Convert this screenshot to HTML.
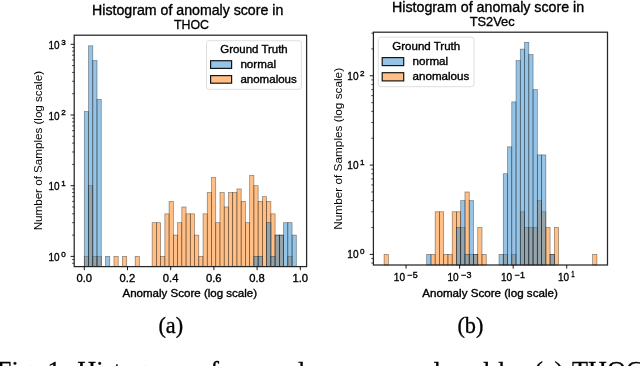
<!DOCTYPE html><html><head><meta charset="utf-8"><style>html,body{margin:0;padding:0;background:#fff;overflow:hidden}svg{display:block;will-change:transform}</style></head><body><svg width="640" height="366" viewBox="0 0 640 366">
<rect width="640" height="366" fill="#fff"/>
<rect x="84.30" y="256.40" width="4.24" height="10.20" fill="#ff7f0e" fill-opacity="0.5" stroke="#000" stroke-opacity="0.45" stroke-width="0.7"/>
<rect x="88.54" y="185.70" width="4.24" height="80.90" fill="#ff7f0e" fill-opacity="0.5" stroke="#000" stroke-opacity="0.45" stroke-width="0.7"/>
<rect x="92.78" y="256.40" width="4.24" height="10.20" fill="#ff7f0e" fill-opacity="0.5" stroke="#000" stroke-opacity="0.45" stroke-width="0.7"/>
<rect x="97.02" y="256.40" width="4.24" height="10.20" fill="#ff7f0e" fill-opacity="0.5" stroke="#000" stroke-opacity="0.45" stroke-width="0.7"/>
<rect x="113.98" y="256.40" width="4.24" height="10.20" fill="#ff7f0e" fill-opacity="0.5" stroke="#000" stroke-opacity="0.45" stroke-width="0.7"/>
<rect x="122.46" y="256.40" width="4.24" height="10.20" fill="#ff7f0e" fill-opacity="0.5" stroke="#000" stroke-opacity="0.45" stroke-width="0.7"/>
<rect x="135.18" y="256.40" width="4.24" height="10.20" fill="#ff7f0e" fill-opacity="0.5" stroke="#000" stroke-opacity="0.45" stroke-width="0.7"/>
<rect x="152.14" y="222.67" width="4.24" height="43.93" fill="#ff7f0e" fill-opacity="0.5" stroke="#000" stroke-opacity="0.45" stroke-width="0.7"/>
<rect x="156.38" y="222.67" width="4.24" height="43.93" fill="#ff7f0e" fill-opacity="0.5" stroke="#000" stroke-opacity="0.45" stroke-width="0.7"/>
<rect x="160.62" y="256.40" width="4.24" height="10.20" fill="#ff7f0e" fill-opacity="0.5" stroke="#000" stroke-opacity="0.45" stroke-width="0.7"/>
<rect x="164.86" y="213.83" width="4.24" height="52.77" fill="#ff7f0e" fill-opacity="0.5" stroke="#000" stroke-opacity="0.45" stroke-width="0.7"/>
<rect x="169.10" y="201.38" width="4.24" height="65.22" fill="#ff7f0e" fill-opacity="0.5" stroke="#000" stroke-opacity="0.45" stroke-width="0.7"/>
<rect x="173.34" y="235.12" width="4.24" height="31.48" fill="#ff7f0e" fill-opacity="0.5" stroke="#000" stroke-opacity="0.45" stroke-width="0.7"/>
<rect x="177.58" y="222.67" width="4.24" height="43.93" fill="#ff7f0e" fill-opacity="0.5" stroke="#000" stroke-opacity="0.45" stroke-width="0.7"/>
<rect x="181.82" y="206.98" width="4.24" height="59.62" fill="#ff7f0e" fill-opacity="0.5" stroke="#000" stroke-opacity="0.45" stroke-width="0.7"/>
<rect x="186.06" y="213.83" width="4.24" height="52.77" fill="#ff7f0e" fill-opacity="0.5" stroke="#000" stroke-opacity="0.45" stroke-width="0.7"/>
<rect x="190.30" y="213.83" width="4.24" height="52.77" fill="#ff7f0e" fill-opacity="0.5" stroke="#000" stroke-opacity="0.45" stroke-width="0.7"/>
<rect x="194.54" y="235.12" width="4.24" height="31.48" fill="#ff7f0e" fill-opacity="0.5" stroke="#000" stroke-opacity="0.45" stroke-width="0.7"/>
<rect x="198.78" y="256.40" width="4.24" height="10.20" fill="#ff7f0e" fill-opacity="0.5" stroke="#000" stroke-opacity="0.45" stroke-width="0.7"/>
<rect x="203.02" y="213.83" width="4.24" height="52.77" fill="#ff7f0e" fill-opacity="0.5" stroke="#000" stroke-opacity="0.45" stroke-width="0.7"/>
<rect x="207.26" y="192.55" width="4.24" height="74.05" fill="#ff7f0e" fill-opacity="0.5" stroke="#000" stroke-opacity="0.45" stroke-width="0.7"/>
<rect x="211.50" y="177.64" width="4.24" height="88.96" fill="#ff7f0e" fill-opacity="0.5" stroke="#000" stroke-opacity="0.45" stroke-width="0.7"/>
<rect x="215.74" y="222.67" width="4.24" height="43.93" fill="#ff7f0e" fill-opacity="0.5" stroke="#000" stroke-opacity="0.45" stroke-width="0.7"/>
<rect x="219.98" y="192.55" width="4.24" height="74.05" fill="#ff7f0e" fill-opacity="0.5" stroke="#000" stroke-opacity="0.45" stroke-width="0.7"/>
<rect x="224.22" y="206.98" width="4.24" height="59.62" fill="#ff7f0e" fill-opacity="0.5" stroke="#000" stroke-opacity="0.45" stroke-width="0.7"/>
<rect x="228.46" y="192.55" width="4.24" height="74.05" fill="#ff7f0e" fill-opacity="0.5" stroke="#000" stroke-opacity="0.45" stroke-width="0.7"/>
<rect x="232.70" y="192.55" width="4.24" height="74.05" fill="#ff7f0e" fill-opacity="0.5" stroke="#000" stroke-opacity="0.45" stroke-width="0.7"/>
<rect x="236.94" y="188.94" width="4.24" height="77.66" fill="#ff7f0e" fill-opacity="0.5" stroke="#000" stroke-opacity="0.45" stroke-width="0.7"/>
<rect x="241.18" y="201.38" width="4.24" height="65.22" fill="#ff7f0e" fill-opacity="0.5" stroke="#000" stroke-opacity="0.45" stroke-width="0.7"/>
<rect x="245.42" y="222.67" width="4.24" height="43.93" fill="#ff7f0e" fill-opacity="0.5" stroke="#000" stroke-opacity="0.45" stroke-width="0.7"/>
<rect x="249.66" y="175.37" width="4.24" height="91.23" fill="#ff7f0e" fill-opacity="0.5" stroke="#000" stroke-opacity="0.45" stroke-width="0.7"/>
<rect x="253.90" y="185.70" width="4.24" height="80.90" fill="#ff7f0e" fill-opacity="0.5" stroke="#000" stroke-opacity="0.45" stroke-width="0.7"/>
<rect x="258.14" y="201.38" width="4.24" height="65.22" fill="#ff7f0e" fill-opacity="0.5" stroke="#000" stroke-opacity="0.45" stroke-width="0.7"/>
<rect x="262.38" y="196.65" width="4.24" height="69.95" fill="#ff7f0e" fill-opacity="0.5" stroke="#000" stroke-opacity="0.45" stroke-width="0.7"/>
<rect x="266.62" y="201.38" width="4.24" height="65.22" fill="#ff7f0e" fill-opacity="0.5" stroke="#000" stroke-opacity="0.45" stroke-width="0.7"/>
<rect x="270.86" y="213.83" width="4.24" height="52.77" fill="#ff7f0e" fill-opacity="0.5" stroke="#000" stroke-opacity="0.45" stroke-width="0.7"/>
<rect x="275.10" y="235.12" width="4.24" height="31.48" fill="#ff7f0e" fill-opacity="0.5" stroke="#000" stroke-opacity="0.45" stroke-width="0.7"/>
<rect x="279.34" y="235.12" width="4.24" height="31.48" fill="#ff7f0e" fill-opacity="0.5" stroke="#000" stroke-opacity="0.45" stroke-width="0.7"/>
<rect x="287.82" y="256.40" width="4.24" height="10.20" fill="#ff7f0e" fill-opacity="0.5" stroke="#000" stroke-opacity="0.45" stroke-width="0.7"/>
<rect x="84.30" y="111.52" width="4.24" height="155.08" fill="#2d89cd" fill-opacity="0.5" stroke="#000" stroke-opacity="0.45" stroke-width="0.7"/>
<rect x="88.54" y="45.81" width="4.24" height="220.79" fill="#2d89cd" fill-opacity="0.5" stroke="#000" stroke-opacity="0.45" stroke-width="0.7"/>
<rect x="92.78" y="60.50" width="4.24" height="206.10" fill="#2d89cd" fill-opacity="0.5" stroke="#000" stroke-opacity="0.45" stroke-width="0.7"/>
<rect x="97.02" y="99.44" width="4.24" height="167.16" fill="#2d89cd" fill-opacity="0.5" stroke="#000" stroke-opacity="0.45" stroke-width="0.7"/>
<rect x="105.50" y="256.40" width="4.24" height="10.20" fill="#2d89cd" fill-opacity="0.5" stroke="#000" stroke-opacity="0.45" stroke-width="0.7"/>
<rect x="253.90" y="256.40" width="4.24" height="10.20" fill="#2d89cd" fill-opacity="0.5" stroke="#000" stroke-opacity="0.45" stroke-width="0.7"/>
<rect x="258.14" y="256.40" width="4.24" height="10.20" fill="#2d89cd" fill-opacity="0.5" stroke="#000" stroke-opacity="0.45" stroke-width="0.7"/>
<rect x="266.62" y="222.67" width="4.24" height="43.93" fill="#2d89cd" fill-opacity="0.5" stroke="#000" stroke-opacity="0.45" stroke-width="0.7"/>
<rect x="270.86" y="256.40" width="4.24" height="10.20" fill="#2d89cd" fill-opacity="0.5" stroke="#000" stroke-opacity="0.45" stroke-width="0.7"/>
<rect x="275.10" y="235.12" width="4.24" height="31.48" fill="#2d89cd" fill-opacity="0.5" stroke="#000" stroke-opacity="0.45" stroke-width="0.7"/>
<rect x="279.34" y="235.12" width="4.24" height="31.48" fill="#2d89cd" fill-opacity="0.5" stroke="#000" stroke-opacity="0.45" stroke-width="0.7"/>
<rect x="283.58" y="222.67" width="4.24" height="43.93" fill="#2d89cd" fill-opacity="0.5" stroke="#000" stroke-opacity="0.45" stroke-width="0.7"/>
<rect x="287.82" y="222.67" width="4.24" height="43.93" fill="#2d89cd" fill-opacity="0.5" stroke="#000" stroke-opacity="0.45" stroke-width="0.7"/>
<rect x="292.06" y="235.12" width="4.24" height="31.48" fill="#2d89cd" fill-opacity="0.5" stroke="#000" stroke-opacity="0.45" stroke-width="0.7"/>
<rect x="74.2" y="35.2" width="232.40" height="231.40" fill="none" stroke="#262626" stroke-width="1.25"/>
<line x1="70.60" y1="256.40" x2="74.2" y2="256.40" stroke="#000" stroke-width="0.9"/>
<line x1="70.60" y1="185.70" x2="74.2" y2="185.70" stroke="#000" stroke-width="0.9"/>
<line x1="70.60" y1="115.00" x2="74.2" y2="115.00" stroke="#000" stroke-width="0.9"/>
<line x1="70.60" y1="44.30" x2="74.2" y2="44.30" stroke="#000" stroke-width="0.9"/>
<line x1="72.10" y1="263.25" x2="74.2" y2="263.25" stroke="#000" stroke-width="0.7"/>
<line x1="72.10" y1="259.64" x2="74.2" y2="259.64" stroke="#000" stroke-width="0.7"/>
<line x1="72.10" y1="235.12" x2="74.2" y2="235.12" stroke="#000" stroke-width="0.7"/>
<line x1="72.10" y1="222.67" x2="74.2" y2="222.67" stroke="#000" stroke-width="0.7"/>
<line x1="72.10" y1="213.83" x2="74.2" y2="213.83" stroke="#000" stroke-width="0.7"/>
<line x1="72.10" y1="206.98" x2="74.2" y2="206.98" stroke="#000" stroke-width="0.7"/>
<line x1="72.10" y1="201.38" x2="74.2" y2="201.38" stroke="#000" stroke-width="0.7"/>
<line x1="72.10" y1="196.65" x2="74.2" y2="196.65" stroke="#000" stroke-width="0.7"/>
<line x1="72.10" y1="192.55" x2="74.2" y2="192.55" stroke="#000" stroke-width="0.7"/>
<line x1="72.10" y1="188.94" x2="74.2" y2="188.94" stroke="#000" stroke-width="0.7"/>
<line x1="72.10" y1="164.42" x2="74.2" y2="164.42" stroke="#000" stroke-width="0.7"/>
<line x1="72.10" y1="151.97" x2="74.2" y2="151.97" stroke="#000" stroke-width="0.7"/>
<line x1="72.10" y1="143.13" x2="74.2" y2="143.13" stroke="#000" stroke-width="0.7"/>
<line x1="72.10" y1="136.28" x2="74.2" y2="136.28" stroke="#000" stroke-width="0.7"/>
<line x1="72.10" y1="130.68" x2="74.2" y2="130.68" stroke="#000" stroke-width="0.7"/>
<line x1="72.10" y1="125.95" x2="74.2" y2="125.95" stroke="#000" stroke-width="0.7"/>
<line x1="72.10" y1="121.85" x2="74.2" y2="121.85" stroke="#000" stroke-width="0.7"/>
<line x1="72.10" y1="118.24" x2="74.2" y2="118.24" stroke="#000" stroke-width="0.7"/>
<line x1="72.10" y1="93.72" x2="74.2" y2="93.72" stroke="#000" stroke-width="0.7"/>
<line x1="72.10" y1="81.27" x2="74.2" y2="81.27" stroke="#000" stroke-width="0.7"/>
<line x1="72.10" y1="72.43" x2="74.2" y2="72.43" stroke="#000" stroke-width="0.7"/>
<line x1="72.10" y1="65.58" x2="74.2" y2="65.58" stroke="#000" stroke-width="0.7"/>
<line x1="72.10" y1="59.98" x2="74.2" y2="59.98" stroke="#000" stroke-width="0.7"/>
<line x1="72.10" y1="55.25" x2="74.2" y2="55.25" stroke="#000" stroke-width="0.7"/>
<line x1="72.10" y1="51.15" x2="74.2" y2="51.15" stroke="#000" stroke-width="0.7"/>
<line x1="72.10" y1="47.54" x2="74.2" y2="47.54" stroke="#000" stroke-width="0.7"/>
<line x1="84.30" y1="266.6" x2="84.30" y2="270.20" stroke="#000" stroke-width="0.9"/>
<line x1="127.50" y1="266.6" x2="127.50" y2="270.20" stroke="#000" stroke-width="0.9"/>
<line x1="170.70" y1="266.6" x2="170.70" y2="270.20" stroke="#000" stroke-width="0.9"/>
<line x1="213.90" y1="266.6" x2="213.90" y2="270.20" stroke="#000" stroke-width="0.9"/>
<line x1="257.10" y1="266.6" x2="257.10" y2="270.20" stroke="#000" stroke-width="0.9"/>
<line x1="300.30" y1="266.6" x2="300.30" y2="270.20" stroke="#000" stroke-width="0.9"/>
<rect x="384.10" y="254.40" width="4.26" height="10.60" fill="#ff7f0e" fill-opacity="0.5" stroke="#000" stroke-opacity="0.45" stroke-width="0.7"/>
<rect x="430.92" y="254.40" width="4.26" height="10.60" fill="#ff7f0e" fill-opacity="0.5" stroke="#000" stroke-opacity="0.45" stroke-width="0.7"/>
<rect x="435.17" y="211.79" width="4.26" height="53.21" fill="#ff7f0e" fill-opacity="0.5" stroke="#000" stroke-opacity="0.45" stroke-width="0.7"/>
<rect x="439.43" y="211.79" width="4.26" height="53.21" fill="#ff7f0e" fill-opacity="0.5" stroke="#000" stroke-opacity="0.45" stroke-width="0.7"/>
<rect x="443.68" y="254.40" width="4.26" height="10.60" fill="#ff7f0e" fill-opacity="0.5" stroke="#000" stroke-opacity="0.45" stroke-width="0.7"/>
<rect x="447.94" y="254.40" width="4.26" height="10.60" fill="#ff7f0e" fill-opacity="0.5" stroke="#000" stroke-opacity="0.45" stroke-width="0.7"/>
<rect x="452.20" y="211.79" width="4.26" height="53.21" fill="#ff7f0e" fill-opacity="0.5" stroke="#000" stroke-opacity="0.45" stroke-width="0.7"/>
<rect x="456.45" y="211.79" width="4.26" height="53.21" fill="#ff7f0e" fill-opacity="0.5" stroke="#000" stroke-opacity="0.45" stroke-width="0.7"/>
<rect x="460.71" y="227.52" width="4.26" height="37.48" fill="#ff7f0e" fill-opacity="0.5" stroke="#000" stroke-opacity="0.45" stroke-width="0.7"/>
<rect x="464.96" y="191.98" width="4.26" height="73.02" fill="#ff7f0e" fill-opacity="0.5" stroke="#000" stroke-opacity="0.45" stroke-width="0.7"/>
<rect x="469.22" y="254.40" width="4.26" height="10.60" fill="#ff7f0e" fill-opacity="0.5" stroke="#000" stroke-opacity="0.45" stroke-width="0.7"/>
<rect x="473.48" y="254.40" width="4.26" height="10.60" fill="#ff7f0e" fill-opacity="0.5" stroke="#000" stroke-opacity="0.45" stroke-width="0.7"/>
<rect x="477.73" y="227.52" width="4.26" height="37.48" fill="#ff7f0e" fill-opacity="0.5" stroke="#000" stroke-opacity="0.45" stroke-width="0.7"/>
<rect x="481.99" y="254.40" width="4.26" height="10.60" fill="#ff7f0e" fill-opacity="0.5" stroke="#000" stroke-opacity="0.45" stroke-width="0.7"/>
<rect x="503.27" y="254.40" width="4.26" height="10.60" fill="#ff7f0e" fill-opacity="0.5" stroke="#000" stroke-opacity="0.45" stroke-width="0.7"/>
<rect x="511.78" y="254.40" width="4.26" height="10.60" fill="#ff7f0e" fill-opacity="0.5" stroke="#000" stroke-opacity="0.45" stroke-width="0.7"/>
<rect x="520.29" y="211.79" width="4.26" height="53.21" fill="#ff7f0e" fill-opacity="0.5" stroke="#000" stroke-opacity="0.45" stroke-width="0.7"/>
<rect x="524.55" y="227.52" width="4.26" height="37.48" fill="#ff7f0e" fill-opacity="0.5" stroke="#000" stroke-opacity="0.45" stroke-width="0.7"/>
<rect x="528.80" y="227.52" width="4.26" height="37.48" fill="#ff7f0e" fill-opacity="0.5" stroke="#000" stroke-opacity="0.45" stroke-width="0.7"/>
<rect x="533.06" y="227.52" width="4.26" height="37.48" fill="#ff7f0e" fill-opacity="0.5" stroke="#000" stroke-opacity="0.45" stroke-width="0.7"/>
<rect x="537.32" y="200.64" width="4.26" height="64.36" fill="#ff7f0e" fill-opacity="0.5" stroke="#000" stroke-opacity="0.45" stroke-width="0.7"/>
<rect x="541.57" y="211.79" width="4.26" height="53.21" fill="#ff7f0e" fill-opacity="0.5" stroke="#000" stroke-opacity="0.45" stroke-width="0.7"/>
<rect x="545.83" y="227.52" width="4.26" height="37.48" fill="#ff7f0e" fill-opacity="0.5" stroke="#000" stroke-opacity="0.45" stroke-width="0.7"/>
<rect x="550.08" y="254.40" width="4.26" height="10.60" fill="#ff7f0e" fill-opacity="0.5" stroke="#000" stroke-opacity="0.45" stroke-width="0.7"/>
<rect x="554.34" y="227.52" width="4.26" height="37.48" fill="#ff7f0e" fill-opacity="0.5" stroke="#000" stroke-opacity="0.45" stroke-width="0.7"/>
<rect x="592.64" y="254.40" width="4.26" height="10.60" fill="#ff7f0e" fill-opacity="0.5" stroke="#000" stroke-opacity="0.45" stroke-width="0.7"/>
<rect x="426.66" y="254.40" width="4.26" height="10.60" fill="#2d89cd" fill-opacity="0.5" stroke="#000" stroke-opacity="0.45" stroke-width="0.7"/>
<rect x="456.45" y="227.52" width="4.26" height="37.48" fill="#2d89cd" fill-opacity="0.5" stroke="#000" stroke-opacity="0.45" stroke-width="0.7"/>
<rect x="460.71" y="200.64" width="4.26" height="64.36" fill="#2d89cd" fill-opacity="0.5" stroke="#000" stroke-opacity="0.45" stroke-width="0.7"/>
<rect x="464.96" y="254.40" width="4.26" height="10.60" fill="#2d89cd" fill-opacity="0.5" stroke="#000" stroke-opacity="0.45" stroke-width="0.7"/>
<rect x="469.22" y="200.64" width="4.26" height="64.36" fill="#2d89cd" fill-opacity="0.5" stroke="#000" stroke-opacity="0.45" stroke-width="0.7"/>
<rect x="473.48" y="254.40" width="4.26" height="10.60" fill="#2d89cd" fill-opacity="0.5" stroke="#000" stroke-opacity="0.45" stroke-width="0.7"/>
<rect x="499.01" y="254.40" width="4.26" height="10.60" fill="#2d89cd" fill-opacity="0.5" stroke="#000" stroke-opacity="0.45" stroke-width="0.7"/>
<rect x="503.27" y="173.75" width="4.26" height="91.25" fill="#2d89cd" fill-opacity="0.5" stroke="#000" stroke-opacity="0.45" stroke-width="0.7"/>
<rect x="507.52" y="146.87" width="4.26" height="118.13" fill="#2d89cd" fill-opacity="0.5" stroke="#000" stroke-opacity="0.45" stroke-width="0.7"/>
<rect x="511.78" y="101.91" width="4.26" height="163.09" fill="#2d89cd" fill-opacity="0.5" stroke="#000" stroke-opacity="0.45" stroke-width="0.7"/>
<rect x="516.04" y="60.60" width="4.26" height="204.40" fill="#2d89cd" fill-opacity="0.5" stroke="#000" stroke-opacity="0.45" stroke-width="0.7"/>
<rect x="520.29" y="49.11" width="4.26" height="215.89" fill="#2d89cd" fill-opacity="0.5" stroke="#000" stroke-opacity="0.45" stroke-width="0.7"/>
<rect x="524.55" y="42.33" width="4.26" height="222.67" fill="#2d89cd" fill-opacity="0.5" stroke="#000" stroke-opacity="0.45" stroke-width="0.7"/>
<rect x="528.80" y="54.54" width="4.26" height="210.46" fill="#2d89cd" fill-opacity="0.5" stroke="#000" stroke-opacity="0.45" stroke-width="0.7"/>
<rect x="533.06" y="89.63" width="4.26" height="175.37" fill="#2d89cd" fill-opacity="0.5" stroke="#000" stroke-opacity="0.45" stroke-width="0.7"/>
<rect x="537.32" y="154.92" width="4.26" height="110.08" fill="#2d89cd" fill-opacity="0.5" stroke="#000" stroke-opacity="0.45" stroke-width="0.7"/>
<rect x="541.57" y="154.92" width="4.26" height="110.08" fill="#2d89cd" fill-opacity="0.5" stroke="#000" stroke-opacity="0.45" stroke-width="0.7"/>
<rect x="550.08" y="254.40" width="4.26" height="10.60" fill="#2d89cd" fill-opacity="0.5" stroke="#000" stroke-opacity="0.45" stroke-width="0.7"/>
<rect x="373.4" y="32.2" width="234.10" height="232.80" fill="none" stroke="#262626" stroke-width="1.25"/>
<line x1="369.80" y1="254.40" x2="373.4" y2="254.40" stroke="#000" stroke-width="0.9"/>
<line x1="369.80" y1="165.10" x2="373.4" y2="165.10" stroke="#000" stroke-width="0.9"/>
<line x1="369.80" y1="75.80" x2="373.4" y2="75.80" stroke="#000" stroke-width="0.9"/>
<line x1="371.30" y1="263.05" x2="373.4" y2="263.05" stroke="#000" stroke-width="0.7"/>
<line x1="371.30" y1="258.49" x2="373.4" y2="258.49" stroke="#000" stroke-width="0.7"/>
<line x1="371.30" y1="227.52" x2="373.4" y2="227.52" stroke="#000" stroke-width="0.7"/>
<line x1="371.30" y1="211.79" x2="373.4" y2="211.79" stroke="#000" stroke-width="0.7"/>
<line x1="371.30" y1="200.64" x2="373.4" y2="200.64" stroke="#000" stroke-width="0.7"/>
<line x1="371.30" y1="191.98" x2="373.4" y2="191.98" stroke="#000" stroke-width="0.7"/>
<line x1="371.30" y1="184.91" x2="373.4" y2="184.91" stroke="#000" stroke-width="0.7"/>
<line x1="371.30" y1="178.93" x2="373.4" y2="178.93" stroke="#000" stroke-width="0.7"/>
<line x1="371.30" y1="173.75" x2="373.4" y2="173.75" stroke="#000" stroke-width="0.7"/>
<line x1="371.30" y1="169.19" x2="373.4" y2="169.19" stroke="#000" stroke-width="0.7"/>
<line x1="371.30" y1="138.22" x2="373.4" y2="138.22" stroke="#000" stroke-width="0.7"/>
<line x1="371.30" y1="122.49" x2="373.4" y2="122.49" stroke="#000" stroke-width="0.7"/>
<line x1="371.30" y1="111.34" x2="373.4" y2="111.34" stroke="#000" stroke-width="0.7"/>
<line x1="371.30" y1="102.68" x2="373.4" y2="102.68" stroke="#000" stroke-width="0.7"/>
<line x1="371.30" y1="95.61" x2="373.4" y2="95.61" stroke="#000" stroke-width="0.7"/>
<line x1="371.30" y1="89.63" x2="373.4" y2="89.63" stroke="#000" stroke-width="0.7"/>
<line x1="371.30" y1="84.45" x2="373.4" y2="84.45" stroke="#000" stroke-width="0.7"/>
<line x1="371.30" y1="79.89" x2="373.4" y2="79.89" stroke="#000" stroke-width="0.7"/>
<line x1="371.30" y1="48.92" x2="373.4" y2="48.92" stroke="#000" stroke-width="0.7"/>
<line x1="371.30" y1="33.19" x2="373.4" y2="33.19" stroke="#000" stroke-width="0.7"/>
<line x1="406.04" y1="265.0" x2="406.04" y2="268.60" stroke="#000" stroke-width="0.9"/>
<line x1="459.60" y1="265.0" x2="459.60" y2="268.60" stroke="#000" stroke-width="0.9"/>
<line x1="513.16" y1="265.0" x2="513.16" y2="268.60" stroke="#000" stroke-width="0.9"/>
<line x1="566.72" y1="265.0" x2="566.72" y2="268.60" stroke="#000" stroke-width="0.9"/>
<text x="92.10" y="14.60" font-size="13.8" font-family="Liberation Sans" textLength="191.2" lengthAdjust="spacingAndGlyphs" stroke="#000" stroke-width="0.35">Histogram of anomaly score in</text>
<text x="174.00" y="29.20" font-size="13.4" font-family="Liberation Sans" textLength="35.0" lengthAdjust="spacingAndGlyphs" stroke="#000" stroke-width="0.35">THOC</text>
<text x="122.50" y="297.00" font-size="10.4" font-family="Liberation Sans" textLength="134.6" lengthAdjust="spacingAndGlyphs" stroke="#000" stroke-width="0.35">Anomaly Score (log scale)</text>
<text x="84.20" y="281.70" font-size="11.0" font-family="Liberation Sans" text-anchor="middle" textLength="15.6" lengthAdjust="spacingAndGlyphs" stroke="#000" stroke-width="0.35">0.0</text>
<text x="127.40" y="281.70" font-size="11.0" font-family="Liberation Sans" text-anchor="middle" textLength="15.6" lengthAdjust="spacingAndGlyphs" stroke="#000" stroke-width="0.35">0.2</text>
<text x="170.60" y="281.70" font-size="11.0" font-family="Liberation Sans" text-anchor="middle" textLength="15.6" lengthAdjust="spacingAndGlyphs" stroke="#000" stroke-width="0.35">0.4</text>
<text x="213.80" y="281.70" font-size="11.0" font-family="Liberation Sans" text-anchor="middle" textLength="15.6" lengthAdjust="spacingAndGlyphs" stroke="#000" stroke-width="0.35">0.6</text>
<text x="257.00" y="281.70" font-size="11.0" font-family="Liberation Sans" text-anchor="middle" textLength="15.6" lengthAdjust="spacingAndGlyphs" stroke="#000" stroke-width="0.35">0.8</text>
<text x="300.20" y="281.70" font-size="11.0" font-family="Liberation Sans" text-anchor="middle" textLength="15.6" lengthAdjust="spacingAndGlyphs" stroke="#000" stroke-width="0.35">1.0</text>
<text transform="translate(42.1,230.3) rotate(-90)" font-size="10.4" font-family="Liberation Sans" textLength="159.3" lengthAdjust="spacingAndGlyphs">Number of Samples (log scale)</text>
<text x="48.50" y="261.10" font-size="11.2" font-family="Liberation Sans" textLength="11.1" lengthAdjust="spacingAndGlyphs" stroke="#000" stroke-width="0.35">10</text>
<text x="61.20" y="256.70" font-size="8.0" font-family="Liberation Sans" textLength="4.5" lengthAdjust="spacingAndGlyphs" stroke="#000" stroke-width="0.35">0</text>
<text x="48.50" y="190.40" font-size="11.2" font-family="Liberation Sans" textLength="11.1" lengthAdjust="spacingAndGlyphs" stroke="#000" stroke-width="0.35">10</text>
<text x="61.20" y="186.00" font-size="8.0" font-family="Liberation Sans" textLength="4.5" lengthAdjust="spacingAndGlyphs" stroke="#000" stroke-width="0.35">1</text>
<text x="48.50" y="119.70" font-size="11.2" font-family="Liberation Sans" textLength="11.1" lengthAdjust="spacingAndGlyphs" stroke="#000" stroke-width="0.35">10</text>
<text x="61.20" y="115.30" font-size="8.0" font-family="Liberation Sans" textLength="4.5" lengthAdjust="spacingAndGlyphs" stroke="#000" stroke-width="0.35">2</text>
<text x="48.50" y="49.00" font-size="11.2" font-family="Liberation Sans" textLength="11.1" lengthAdjust="spacingAndGlyphs" stroke="#000" stroke-width="0.35">10</text>
<text x="61.20" y="44.60" font-size="8.0" font-family="Liberation Sans" textLength="4.5" lengthAdjust="spacingAndGlyphs" stroke="#000" stroke-width="0.35">3</text>
<text x="392.00" y="11.90" font-size="13.8" font-family="Liberation Sans" textLength="192.2" lengthAdjust="spacingAndGlyphs" stroke="#000" stroke-width="0.35">Histogram of anomaly score in</text>
<text x="469.70" y="25.50" font-size="13.4" font-family="Liberation Sans" textLength="45.0" lengthAdjust="spacingAndGlyphs" stroke="#000" stroke-width="0.35">TS2Vec</text>
<text x="422.30" y="296.90" font-size="10.4" font-family="Liberation Sans" textLength="135.5" lengthAdjust="spacingAndGlyphs" stroke="#000" stroke-width="0.35">Anomaly Score (log scale)</text>
<text x="393.84" y="280.90" font-size="11.2" font-family="Liberation Sans" textLength="11.2" lengthAdjust="spacingAndGlyphs" stroke="#000" stroke-width="0.35">10</text>
<text x="407.64" y="277.60" font-size="8.2" font-family="Liberation Sans" textLength="10.2" lengthAdjust="spacingAndGlyphs" stroke="#000" stroke-width="0.35">−5</text>
<text x="447.40" y="280.90" font-size="11.2" font-family="Liberation Sans" textLength="11.2" lengthAdjust="spacingAndGlyphs" stroke="#000" stroke-width="0.35">10</text>
<text x="461.20" y="277.60" font-size="8.2" font-family="Liberation Sans" textLength="10.2" lengthAdjust="spacingAndGlyphs" stroke="#000" stroke-width="0.35">−3</text>
<text x="500.96" y="280.90" font-size="11.2" font-family="Liberation Sans" textLength="11.2" lengthAdjust="spacingAndGlyphs" stroke="#000" stroke-width="0.35">10</text>
<text x="514.76" y="277.60" font-size="8.2" font-family="Liberation Sans" textLength="10.2" lengthAdjust="spacingAndGlyphs" stroke="#000" stroke-width="0.35">−1</text>
<text x="558.02" y="280.90" font-size="11.2" font-family="Liberation Sans" textLength="11.1" lengthAdjust="spacingAndGlyphs" stroke="#000" stroke-width="0.35">10</text>
<text x="571.32" y="276.70" font-size="8.2" font-family="Liberation Sans" textLength="3.4" lengthAdjust="spacingAndGlyphs" stroke="#000" stroke-width="0.35">1</text>
<text transform="translate(341.7,229.7) rotate(-90)" font-size="10.4" font-family="Liberation Sans" textLength="161.8" lengthAdjust="spacingAndGlyphs">Number of Samples (log scale)</text>
<text x="347.30" y="258.10" font-size="10.9" font-family="Liberation Sans" textLength="11.2" lengthAdjust="spacingAndGlyphs" stroke="#000" stroke-width="0.35">10</text>
<text x="359.90" y="254.20" font-size="8.0" font-family="Liberation Sans" textLength="4.5" lengthAdjust="spacingAndGlyphs" stroke="#000" stroke-width="0.35">0</text>
<text x="347.30" y="168.80" font-size="10.9" font-family="Liberation Sans" textLength="11.2" lengthAdjust="spacingAndGlyphs" stroke="#000" stroke-width="0.35">10</text>
<text x="359.90" y="164.90" font-size="8.0" font-family="Liberation Sans" textLength="4.5" lengthAdjust="spacingAndGlyphs" stroke="#000" stroke-width="0.35">1</text>
<text x="347.30" y="79.50" font-size="10.9" font-family="Liberation Sans" textLength="11.2" lengthAdjust="spacingAndGlyphs" stroke="#000" stroke-width="0.35">10</text>
<text x="359.90" y="75.60" font-size="8.0" font-family="Liberation Sans" textLength="4.5" lengthAdjust="spacingAndGlyphs" stroke="#000" stroke-width="0.35">2</text>
<rect x="206.5" y="40.7" width="94.90" height="48.60" rx="2.5" fill="#fff" fill-opacity="0.8" stroke="#d6d6d6" stroke-width="0.8"/>
<text x="220.30" y="52.70" font-size="10.6" font-family="Liberation Sans" textLength="67.4" lengthAdjust="spacingAndGlyphs" stroke="#000" stroke-width="0.35">Ground Truth</text>
<rect x="210.6" y="60.7" width="21.00" height="7.70" fill="#2d89cd" fill-opacity="0.5" stroke="#000" stroke-opacity="0.9" stroke-width="1.2"/>
<text x="240.40" y="67.80" font-size="10.6" font-family="Liberation Sans" textLength="35.6" lengthAdjust="spacingAndGlyphs" stroke="#000" stroke-width="0.35">normal</text>
<rect x="210.6" y="75.6" width="21.00" height="7.60" fill="#ff7f0e" fill-opacity="0.5" stroke="#000" stroke-opacity="0.9" stroke-width="1.2"/>
<text x="240.40" y="82.90" font-size="10.6" font-family="Liberation Sans" textLength="56.4" lengthAdjust="spacingAndGlyphs" stroke="#000" stroke-width="0.35">anomalous</text>
<rect x="378.3" y="37.2" width="95.70" height="49.50" rx="2.5" fill="#fff" fill-opacity="0.8" stroke="#d6d6d6" stroke-width="0.8"/>
<text x="392.30" y="49.80" font-size="10.6" font-family="Liberation Sans" textLength="67.9" lengthAdjust="spacingAndGlyphs" stroke="#000" stroke-width="0.35">Ground Truth</text>
<rect x="382.2" y="57.6" width="21.50" height="8.00" fill="#2d89cd" fill-opacity="0.5" stroke="#000" stroke-opacity="0.9" stroke-width="1.2"/>
<text x="412.60" y="65.20" font-size="10.6" font-family="Liberation Sans" textLength="35.6" lengthAdjust="spacingAndGlyphs" stroke="#000" stroke-width="0.35">normal</text>
<rect x="382.2" y="72.7" width="21.50" height="8.20" fill="#ff7f0e" fill-opacity="0.5" stroke="#000" stroke-opacity="0.9" stroke-width="1.2"/>
<text x="412.60" y="80.20" font-size="10.6" font-family="Liberation Sans" textLength="56.7" lengthAdjust="spacingAndGlyphs" stroke="#000" stroke-width="0.35">anomalous</text>
<text x="170.80" y="333.10" font-size="22.3" font-family="Liberation Serif" text-anchor="middle" stroke="#000" stroke-width="0.3">(a)</text>
<text x="470.40" y="333.10" font-size="22.3" font-family="Liberation Serif" text-anchor="middle" stroke="#000" stroke-width="0.3">(b)</text>
<text x="-3.15" y="378.60" font-size="26.2" font-family="Liberation Serif" stroke="#000" stroke-width="0.3" word-spacing="2.72">Fig. 1: Histogram of anomaly score produced by (a) THOC</text>
</svg></body></html>
